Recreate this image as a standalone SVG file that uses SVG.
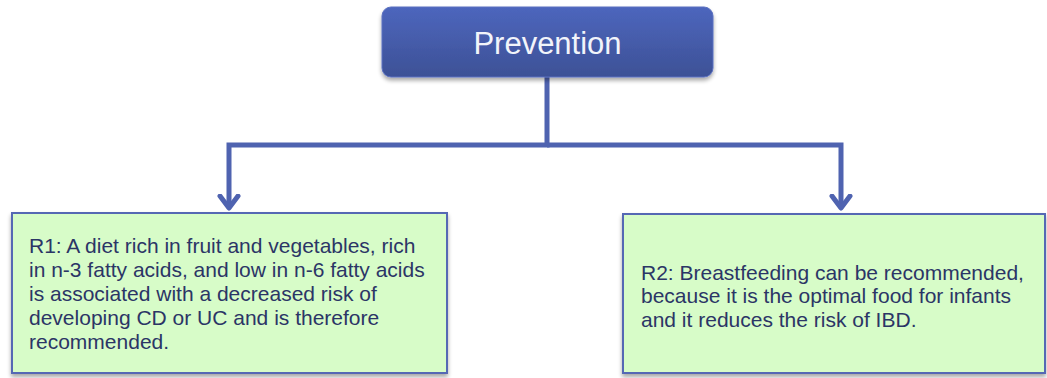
<svg xmlns="http://www.w3.org/2000/svg" width="1047" height="378" viewBox="0 0 1047 378">
<defs>
<linearGradient id="hdr" x1="0" y1="0" x2="0" y2="1">
<stop offset="0" stop-color="#4d66bd"/>
<stop offset="1" stop-color="#3d5196"/>
</linearGradient>
<filter id="sh" x="-10%" y="-10%" width="120%" height="130%">
<feGaussianBlur in="SourceAlpha" stdDeviation="2"/>
<feOffset dx="0" dy="3"/>
<feComponentTransfer><feFuncA type="linear" slope="0.35"/></feComponentTransfer>
<feMerge><feMergeNode/><feMergeNode in="SourceGraphic"/></feMerge>
</filter>
<marker id="arr" viewBox="-12 -14 24 18" refX="0" refY="0" markerWidth="24" markerHeight="18" markerUnits="userSpaceOnUse" orient="0">
<path d="M-9 -12 L0 0 L9 -12" fill="none" stroke="#4f63b0" stroke-width="5" stroke-linecap="round" stroke-linejoin="round"/>
</marker>
</defs>
<style>
.conn{fill:none;stroke:#4f63b0;stroke-width:5;stroke-linejoin:miter}
.box{fill:#d7fcc8;stroke:#5468b4;stroke-width:2}
.txt{font-family:"Liberation Sans",Arial,sans-serif;font-size:21px;fill:#2b3566}
.title{font-family:"Liberation Sans",Arial,sans-serif;font-size:31px;fill:#f2f4fa}
</style>
<g id="connectors">
<path class="conn" d="M547 77 V145 H229 V208" marker-end="url(#arr)"/>
<path class="conn" d="M547 145 H841 V208" marker-end="url(#arr)"/>
</g>
<g id="prevention">
<rect x="382" y="7" width="331" height="70" rx="9" fill="url(#hdr)" stroke="#5a70c0" stroke-width="1" filter="url(#sh)"/>
<text class="title" x="547.5" y="54" text-anchor="middle">Prevention</text>
</g>
<g id="r1">
<rect class="box" x="12" y="213" width="435" height="160" filter="url(#sh)"/>
<text class="txt" x="29" y="253">R1: A diet rich in fruit and vegetables, rich</text>
<text class="txt" x="29" y="277">in n-3 fatty acids, and low in n-6 fatty acids</text>
<text class="txt" x="29" y="301">is associated with a decreased risk of</text>
<text class="txt" x="29" y="325">developing CD or UC and is therefore</text>
<text class="txt" x="29" y="349">recommended.</text>
</g>
<g id="r2">
<rect class="box" x="623" y="214" width="422" height="159" filter="url(#sh)"/>
<text class="txt" x="641" y="280">R2: Breastfeeding can be recommended,</text>
<text class="txt" x="641" y="303">because it is the optimal food for infants</text>
<text class="txt" x="641" y="327">and it reduces the risk of IBD.</text>
</g>
</svg>
